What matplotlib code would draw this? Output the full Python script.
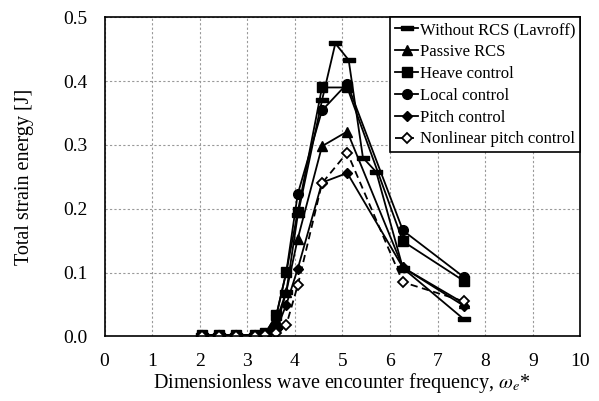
import matplotlib
matplotlib.use("Agg")
import matplotlib.pyplot as plt

plt.rcParams['font.family'] = ['Liberation Serif', 'DejaVu Serif']
plt.rcParams['mathtext.fontset'] = 'stix'

# encounter frequencies used by the RCS runs
freq = [2.05, 2.40, 2.77, 3.17, 3.38, 3.61, 3.82, 4.06, 4.57, 5.10, 6.27, 7.55]
passive = [0.002, 0.002, 0.002, 0.002, 0.004, 0.025, 0.070, 0.153, 0.298, 0.321, 0.108, 0.052]
heave = [0.002, 0.002, 0.002, 0.002, 0.005, 0.033, 0.101, 0.195, 0.390, 0.390, 0.149, 0.087]
local = [0.002, 0.002, 0.002, 0.002, 0.005, 0.033, 0.101, 0.223, 0.354, 0.396, 0.166, 0.093]
pitch = [0.002, 0.002, 0.002, 0.002, 0.003, 0.010, 0.050, 0.106, 0.241, 0.256, 0.108, 0.048]
nonlinear = [0.001, 0.001, 0.001, 0.001, 0.002, 0.005, 0.018, 0.080, 0.240, 0.288, 0.085, 0.055]

# Lavroff reference data (without RCS)
freq_lav = [2.05, 2.40, 2.77, 3.17, 3.38, 3.61, 3.82, 4.06, 4.57, 4.85, 5.13, 5.43, 5.71, 6.27, 7.55]
lavroff = [0.002, 0.002, 0.002, 0.002, 0.004, 0.015, 0.070, 0.190, 0.370, 0.459, 0.433, 0.280, 0.2575, 0.107, 0.027]

bar = [(-1, -0.4), (1, -0.4), (1, 0.4), (-1, 0.4), (-1, -0.4)]

fig = plt.figure(figsize=(5.99, 4.01), dpi=100)
ax = fig.add_axes([0.1745, 0.161, 0.7945, 0.796])

ax.plot(freq_lav, lavroff, color='black', lw=1.3, marker=bar, ms=8, label='Without RCS (Lavroff)')
ax.plot(freq, passive, color='black', lw=1.3, marker='^', ms=7, label='Passive RCS')
ax.plot(freq, heave, color='black', lw=1.3, marker='s', ms=7, label='Heave control')
ax.plot(freq, local, color='black', lw=1.3, marker='o', ms=7, label='Local control')
ax.plot(freq, pitch, color='black', lw=1.3, marker='D', ms=5.5, label='Pitch control')
ax.plot(freq, nonlinear, color='black', lw=1.3, ls=(0, (4, 2.5)), marker='D', ms=5.5,
        mfc='white', mew=1.3, label='Nonlinear pitch control')

ax.set_xlim(0, 10)
ax.set_ylim(0, 0.5)
ax.set_xticks(range(0, 11))
ax.set_yticks([0.0, 0.1, 0.2, 0.3, 0.4, 0.5])
ax.set_yticklabels(['0.0', '0.1', '0.2', '0.3', '0.4', '0.5'])
ax.tick_params(length=0, labelsize=14, pad=12)
ax.grid(True, color='#999999', ls=(0, (2, 2)), lw=0.8)
for s in ax.spines.values():
    s.set_linewidth(1.2)

ax.set_xlabel(r'Dimensionless wave encounter frequency, $\omega_e$*', fontsize=14.5, labelpad=1)
ax.set_ylabel('Total strain energy [J]', fontsize=14.5, labelpad=21)

leg = ax.legend(loc='upper right', fontsize=12, frameon=True, fancybox=False,
                edgecolor='black', framealpha=1, borderaxespad=0, handlelength=1.4,
                handletextpad=0.1, labelspacing=0.35, borderpad=0.3)
leg.get_frame().set_linewidth(1.2)

fig.savefig('out.png', dpi=100)
